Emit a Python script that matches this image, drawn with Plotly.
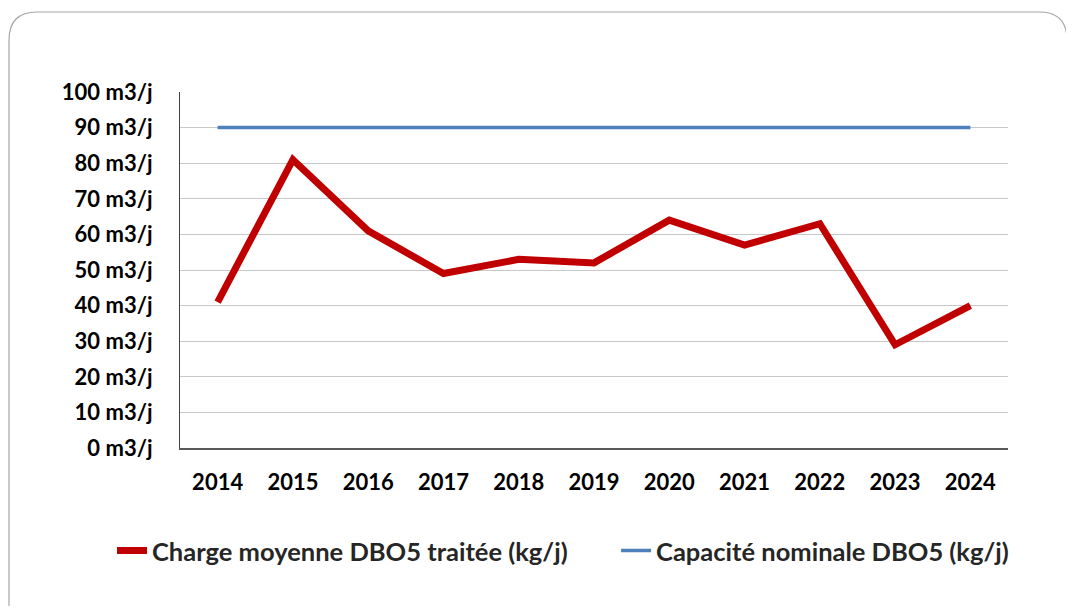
import plotly.graph_objects as go

years = ["2014", "2015", "2016", "2017", "2018", "2019", "2020", "2021", "2022", "2023", "2024"]
charge = [41, 81, 61, 49, 53, 52, 64, 57, 63, 29, 40]
capacite = [90] * len(years)
y_ticks = [0, 10, 20, 30, 40, 50, 60, 70, 80, 90, 100]
y_labels = [f"{v} m3/j" for v in y_ticks]
series_names = ["Charge moyenne DBO5 traitée (kg/j)", "Capacité nominale DBO5 (kg/j)"]

# page body has an 8px margin, so figure coords = page coords - 8
W, H = 1060, 598
L, R, T, B = 172, 1000, 84, 440
FONT = "Lato"
PAD = "\u00a0" * 7  # spacing between legend entries

fig = go.Figure()
fig.add_trace(go.Scatter(x=years, y=charge, mode="lines", name=series_names[0] + PAD,
                         line=dict(color="#C00000", width=7)))
fig.add_trace(go.Scatter(x=years, y=capacite, mode="lines", name=series_names[1],
                         line=dict(color="#4F81BD", width=3.5)))

def px(x):
    return (x - L) / (R - L)

def py(y):
    return (B - y) / (B - T)

# rounded border
x0, y0, x1, y1, r = 1, 4, 1059, 640, 28
path = (f"M {px(x0+r)},{py(y0)} L {px(x1-r)},{py(y0)} Q {px(x1)},{py(y0)} {px(x1)},{py(y0+r)} "
        f"L {px(x1)},{py(y1-r)} Q {px(x1)},{py(y1)} {px(x1-r)},{py(y1)} "
        f"L {px(x0+r)},{py(y1)} Q {px(x0)},{py(y1)} {px(x0)},{py(y1-r)} "
        f"L {px(x0)},{py(y0+r)} Q {px(x0)},{py(y0)} {px(x0+r)},{py(y0)} Z")
fig.add_shape(type="path", path=path, xref="paper", yref="paper",
              line=dict(color="#A6A6A6", width=1.2), layer="below")

fig.update_layout(
    width=W, height=H,
    margin=dict(l=L, r=W - R, t=T, b=H - B),
    paper_bgcolor="white", plot_bgcolor="white",
    font=dict(family=FONT, size=22, color="black"),
    showlegend=True,
    legend=dict(orientation="h", x=px(104), xanchor="left", y=py(543), yanchor="middle",
                font=dict(family=FONT, size=25.5, color="#262626", weight="bold"),
                tracegroupgap=0),
    xaxis=dict(type="category", range=[-0.5, 10.5], showgrid=False,
               showline=True, linecolor="#595959", linewidth=1.5,
               ticks="", tickfont=dict(family=FONT, size=22, weight="bold", color="black"),
               ticklabelstandoff=14, fixedrange=True),
    yaxis=dict(range=[0, 100], tickvals=y_ticks, ticktext=y_labels,
               showgrid=True, gridcolor="#C8C8C8", gridwidth=1.2,
               showline=True, linecolor="#404040", linewidth=1.2,
               zeroline=False, ticks="", ticklabelstandoff=22,
               tickfont=dict(family=FONT, size=22, weight="bold", color="black"),
               fixedrange=True),
)

fig.write_html("out.html")
